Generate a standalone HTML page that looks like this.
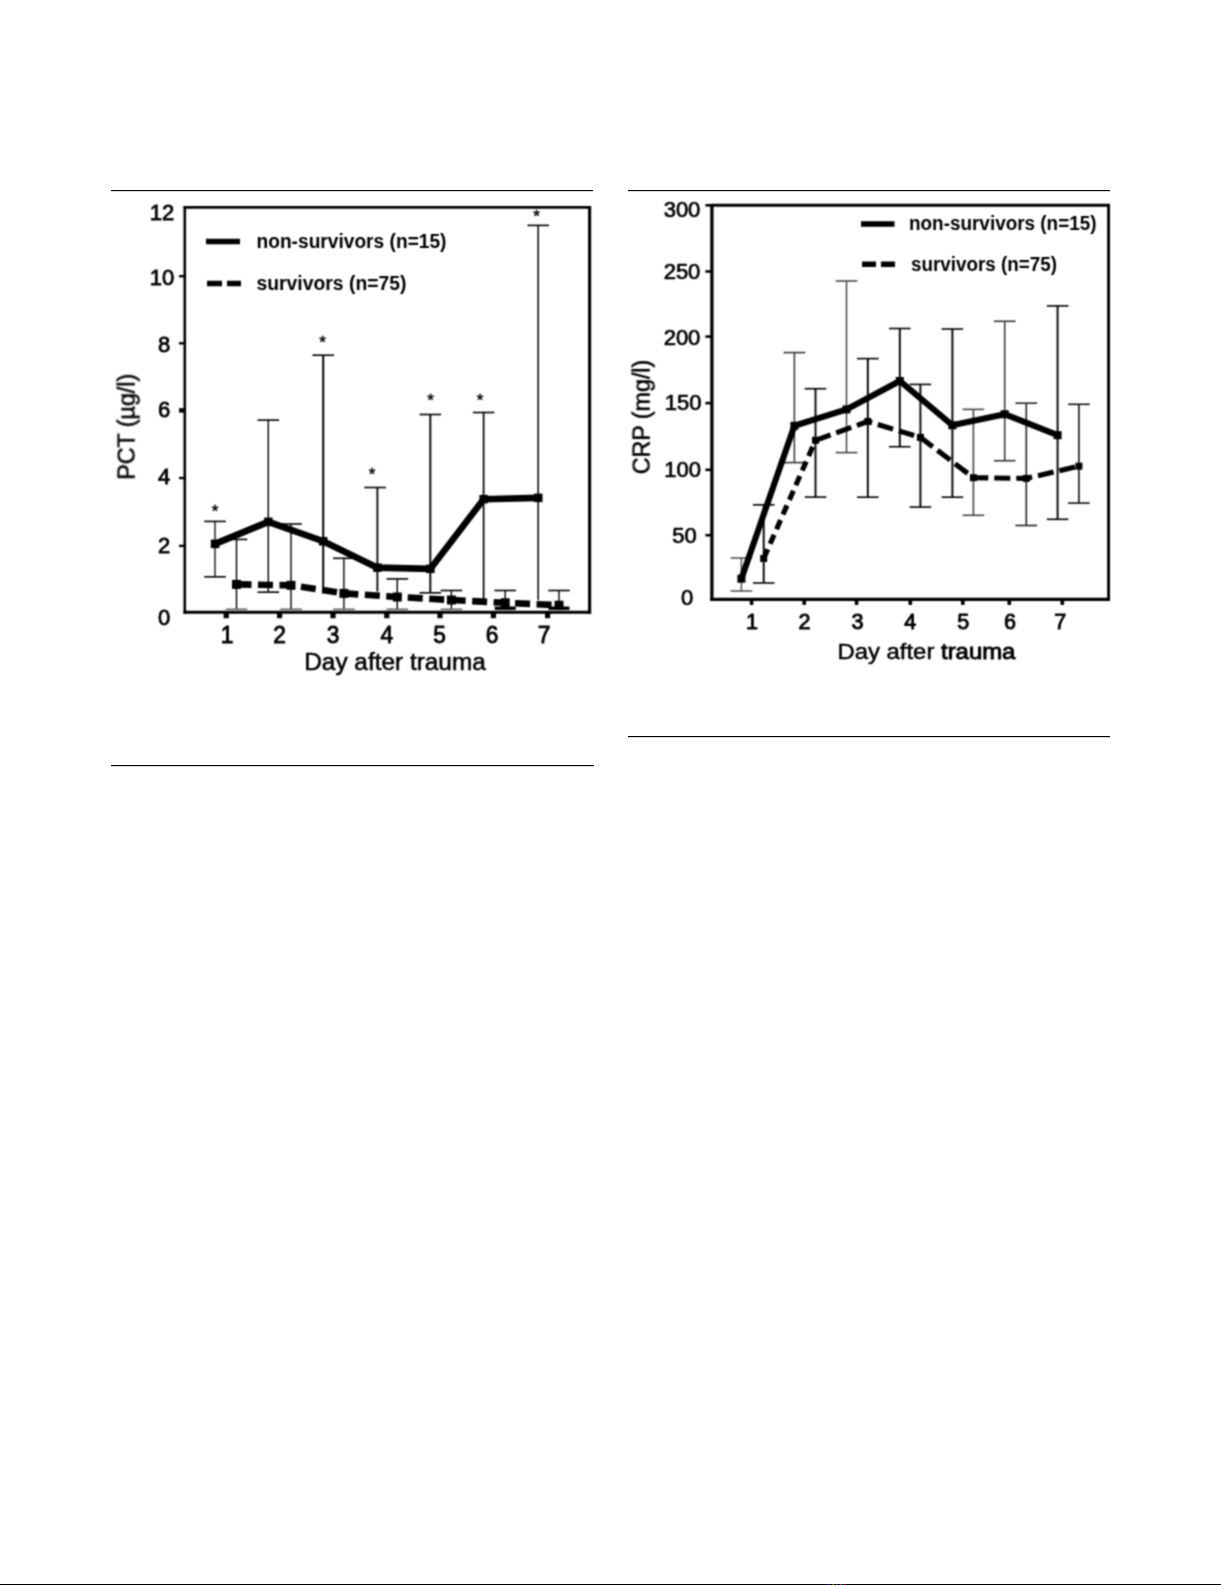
<!DOCTYPE html>
<html lang="en"><head><meta charset="utf-8"><title>Figure</title>
<style>
html,body{margin:0;padding:0;background:#fff;}
body{width:1221px;height:1585px;overflow:hidden;position:relative;}
svg{position:absolute;left:0;top:0;display:block;}
svg text{font-family:"Liberation Sans", Arial, sans-serif;fill:#000;}
</style></head><body>
<svg width="1221" height="1585" viewBox="0 0 1221 1585">
<defs><filter id="soft" x="0" y="0" width="1221" height="1585" filterUnits="userSpaceOnUse" color-interpolation-filters="sRGB"><feConvolveMatrix order="3" kernelMatrix="1 2 1 2 5 2 1 2 1" divisor="17" edgeMode="duplicate" preserveAlpha="false"/></filter></defs>
<g id="fig" filter="url(#soft)">
<line x1="184.8" y1="206.0" x2="184.8" y2="613.7" stroke="#000" stroke-width="2.6" />
<line x1="183.5" y1="207.3" x2="591.1" y2="207.3" stroke="#000" stroke-width="2.7" />
<line x1="589.6" y1="206.0" x2="589.6" y2="613.7" stroke="#000" stroke-width="3.1" />
<line x1="183.5" y1="612.2" x2="591.1" y2="612.2" stroke="#000" stroke-width="3.1" />
<line x1="179.0" y1="545.9" x2="184.8" y2="545.9" stroke="#000" stroke-width="2.4" />
<line x1="179.0" y1="478.0" x2="184.8" y2="478.0" stroke="#000" stroke-width="2.4" />
<line x1="179.0" y1="410.4" x2="184.8" y2="410.4" stroke="#000" stroke-width="4.5" />
<line x1="179.0" y1="343.3" x2="184.8" y2="343.3" stroke="#000" stroke-width="2.4" />
<line x1="179.0" y1="276.2" x2="184.8" y2="276.2" stroke="#000" stroke-width="2.4" />
<text transform="translate(162.0,220.4) scale(1.0,1)" font-size="22" text-anchor="middle" font-weight="normal" stroke="#000" stroke-width="0.8" >12</text>
<text transform="translate(162.0,284.5) scale(1.0,1)" font-size="22" text-anchor="middle" font-weight="normal" stroke="#000" stroke-width="0.8" >10</text>
<text transform="translate(164.0,351.6) scale(1.0,1)" font-size="22" text-anchor="middle" font-weight="normal" stroke="#000" stroke-width="0.8" >8</text>
<text transform="translate(164.0,417.4) scale(1.0,1)" font-size="22" text-anchor="middle" font-weight="normal" stroke="#000" stroke-width="0.8" >6</text>
<text transform="translate(164.0,484.3) scale(1.0,1)" font-size="22" text-anchor="middle" font-weight="normal" stroke="#000" stroke-width="0.8" >4</text>
<text transform="translate(164.0,553.1) scale(1.0,1)" font-size="22" text-anchor="middle" font-weight="normal" stroke="#000" stroke-width="0.8" >2</text>
<text transform="translate(164.0,625.2) scale(1.0,1)" font-size="22" text-anchor="middle" font-weight="normal" stroke="#000" stroke-width="0.8" >0</text>
<line x1="226.2" y1="612.2" x2="226.2" y2="618.2" stroke="#000" stroke-width="5.2" />
<text transform="translate(227.2,643.4) scale(0.93,1)" font-size="24.5" text-anchor="middle" font-weight="normal" stroke="#000" stroke-width="0.9" >1</text>
<line x1="279.6" y1="612.2" x2="279.6" y2="618.2" stroke="#000" stroke-width="5.2" />
<text transform="translate(279.6,643.4) scale(0.93,1)" font-size="24.5" text-anchor="middle" font-weight="normal" stroke="#000" stroke-width="0.9" >2</text>
<line x1="333.0" y1="612.2" x2="333.0" y2="618.2" stroke="#000" stroke-width="5.2" />
<text transform="translate(333.0,643.4) scale(0.93,1)" font-size="24.5" text-anchor="middle" font-weight="normal" stroke="#000" stroke-width="0.9" >3</text>
<line x1="386.8" y1="612.2" x2="386.8" y2="618.2" stroke="#000" stroke-width="5.2" />
<text transform="translate(386.8,643.4) scale(0.93,1)" font-size="24.5" text-anchor="middle" font-weight="normal" stroke="#000" stroke-width="0.9" >4</text>
<line x1="440.0" y1="612.2" x2="440.0" y2="618.2" stroke="#000" stroke-width="5.2" />
<text transform="translate(439.5,643.4) scale(0.93,1)" font-size="24.5" text-anchor="middle" font-weight="normal" stroke="#000" stroke-width="0.9" >5</text>
<line x1="493.4" y1="612.2" x2="493.4" y2="618.2" stroke="#000" stroke-width="5.2" />
<text transform="translate(492.0,643.4) scale(0.93,1)" font-size="24.5" text-anchor="middle" font-weight="normal" stroke="#000" stroke-width="0.9" >6</text>
<line x1="547.6" y1="612.2" x2="547.6" y2="618.2" stroke="#000" stroke-width="5.2" />
<text transform="translate(544.2,643.4) scale(0.93,1)" font-size="24.5" text-anchor="middle" font-weight="normal" stroke="#000" stroke-width="0.9" >7</text>
<text transform="translate(395.0,670.3) scale(1.0,1)" font-size="23" text-anchor="middle" font-weight="normal" stroke="#000" stroke-width="0.55" textLength="181.5" lengthAdjust="spacingAndGlyphs" >Day after trauma</text>
<text transform="translate(134.6,426.7) rotate(-90)" font-size="23" text-anchor="middle" textLength="106" lengthAdjust="spacingAndGlyphs" stroke="#000" stroke-width="0.55">PCT (µg/l)</text>
<line x1="215.0" y1="521.4" x2="215.0" y2="576.8" stroke="#000" stroke-width="1.3" />
<line x1="204.2" y1="521.4" x2="225.8" y2="521.4" stroke="#000" stroke-width="1.6" />
<line x1="204.2" y1="576.8" x2="225.8" y2="576.8" stroke="#000" stroke-width="1.6" />
<line x1="268.3" y1="420.1" x2="268.3" y2="592.2" stroke="#000" stroke-width="1.4" />
<line x1="257.5" y1="420.1" x2="279.1" y2="420.1" stroke="#000" stroke-width="1.6" />
<line x1="257.5" y1="592.2" x2="279.1" y2="592.2" stroke="#000" stroke-width="1.6" />
<line x1="323.2" y1="355.2" x2="323.2" y2="589.5" stroke="#000" stroke-width="2.0" />
<line x1="312.4" y1="355.2" x2="334.0" y2="355.2" stroke="#000" stroke-width="1.6" />
<line x1="377.4" y1="487.5" x2="377.4" y2="591.5" stroke="#000" stroke-width="1.8" />
<line x1="364.3" y1="487.5" x2="385.9" y2="487.5" stroke="#000" stroke-width="1.6" />
<line x1="430.3" y1="414.5" x2="430.3" y2="592.8" stroke="#000" stroke-width="1.9" />
<line x1="419.5" y1="414.5" x2="441.1" y2="414.5" stroke="#000" stroke-width="1.6" />
<line x1="419.5" y1="592.8" x2="441.1" y2="592.8" stroke="#000" stroke-width="1.6" />
<line x1="483.6" y1="412.5" x2="483.6" y2="599.0" stroke="#000" stroke-width="1.7" />
<line x1="472.8" y1="412.5" x2="494.4" y2="412.5" stroke="#000" stroke-width="1.6" />
<line x1="538.2" y1="225.4" x2="538.2" y2="600.0" stroke="#000" stroke-width="1.5" />
<line x1="527.4" y1="225.4" x2="549.0" y2="225.4" stroke="#000" stroke-width="1.6" />
<line x1="236.5" y1="539.4" x2="236.5" y2="609.8" stroke="#000" stroke-width="1.4" />
<line x1="225.7" y1="539.4" x2="247.3" y2="539.4" stroke="#000" stroke-width="1.6" />
<line x1="225.7" y1="609.3" x2="247.3" y2="609.3" stroke="#666" stroke-width="1.6" />
<line x1="291.0" y1="524.0" x2="291.0" y2="609.8" stroke="#000" stroke-width="1.4" />
<line x1="280.2" y1="524.0" x2="301.8" y2="524.0" stroke="#000" stroke-width="1.6" />
<line x1="280.2" y1="609.3" x2="301.8" y2="609.3" stroke="#666" stroke-width="1.6" />
<line x1="343.9" y1="558.3" x2="343.9" y2="609.8" stroke="#000" stroke-width="1.4" />
<line x1="333.1" y1="558.3" x2="354.7" y2="558.3" stroke="#000" stroke-width="1.6" />
<line x1="333.1" y1="609.3" x2="354.7" y2="609.3" stroke="#666" stroke-width="1.6" />
<line x1="397.3" y1="578.9" x2="397.3" y2="609.8" stroke="#000" stroke-width="1.4" />
<line x1="386.5" y1="578.9" x2="408.1" y2="578.9" stroke="#000" stroke-width="1.6" />
<line x1="386.5" y1="609.3" x2="408.1" y2="609.3" stroke="#666" stroke-width="1.6" />
<line x1="451.4" y1="590.5" x2="451.4" y2="609.8" stroke="#000" stroke-width="1.4" />
<line x1="440.6" y1="590.5" x2="462.2" y2="590.5" stroke="#000" stroke-width="1.6" />
<line x1="440.6" y1="609.3" x2="462.2" y2="609.3" stroke="#666" stroke-width="1.6" />
<line x1="505.2" y1="590.5" x2="505.2" y2="609.8" stroke="#000" stroke-width="1.4" />
<line x1="494.4" y1="590.5" x2="516.0" y2="590.5" stroke="#000" stroke-width="1.6" />
<line x1="494.7" y1="608.2" x2="515.7" y2="608.2" stroke="#000" stroke-width="3.4" />
<line x1="559.0" y1="590.5" x2="559.0" y2="609.8" stroke="#000" stroke-width="1.4" />
<line x1="548.2" y1="590.5" x2="569.8" y2="590.5" stroke="#000" stroke-width="1.6" />
<line x1="548.5" y1="608.2" x2="569.5" y2="608.2" stroke="#000" stroke-width="3.4" />
<polyline points="215.0,543.9 268.3,521.9 323.2,541.2 377.4,567.6 430.3,568.9 483.6,499.2 538.2,497.9" fill="none" stroke="#000" stroke-width="6.6" stroke-linejoin="miter"/>
<rect x="210.8" y="539.6" width="8.5" height="8.5" fill="#000"/>
<rect x="264.1" y="517.6" width="8.5" height="8.5" fill="#000"/>
<rect x="318.9" y="537.0" width="8.5" height="8.5" fill="#000"/>
<rect x="373.1" y="563.4" width="8.5" height="8.5" fill="#000"/>
<rect x="426.1" y="564.6" width="8.5" height="8.5" fill="#000"/>
<rect x="479.4" y="494.9" width="8.5" height="8.5" fill="#000"/>
<rect x="534.0" y="493.6" width="8.5" height="8.5" fill="#000"/>
<polyline points="236.5,584.4 291.0,585.3 343.9,593.4 397.3,597.0 451.4,600.0 505.2,602.8 559.0,605.2" fill="none" stroke="#000" stroke-width="6.6" stroke-dasharray="15 6.5"/>
<rect x="232.0" y="579.9" width="9" height="9" fill="#000"/>
<rect x="286.5" y="580.8" width="9" height="9" fill="#000"/>
<rect x="339.4" y="588.9" width="9" height="9" fill="#000"/>
<rect x="392.8" y="592.5" width="9" height="9" fill="#000"/>
<rect x="446.9" y="595.5" width="9" height="9" fill="#000"/>
<rect x="500.7" y="598.3" width="9" height="9" fill="#000"/>
<rect x="554.5" y="600.7" width="9" height="9" fill="#000"/>
<text transform="translate(215.0,516.5) scale(1.0,1)" font-size="17" text-anchor="middle" font-weight="normal" stroke="#000" stroke-width="0.5" fill="#222">*</text>
<text transform="translate(322.6,348.0) scale(1.0,1)" font-size="17" text-anchor="middle" font-weight="normal" stroke="#000" stroke-width="0.5" fill="#222">*</text>
<text transform="translate(372.0,479.5) scale(1.0,1)" font-size="17" text-anchor="middle" font-weight="normal" stroke="#000" stroke-width="0.5" fill="#222">*</text>
<text transform="translate(430.5,405.5) scale(1.0,1)" font-size="17" text-anchor="middle" font-weight="normal" stroke="#000" stroke-width="0.5" fill="#222">*</text>
<text transform="translate(480.0,405.5) scale(1.0,1)" font-size="17" text-anchor="middle" font-weight="normal" stroke="#000" stroke-width="0.5" fill="#222">*</text>
<text transform="translate(536.5,221.5) scale(1.0,1)" font-size="17" text-anchor="middle" font-weight="normal" stroke="#000" stroke-width="0.5" fill="#222">*</text>
<line x1="206.0" y1="241.5" x2="240.0" y2="241.5" stroke="#000" stroke-width="5.5" />
<line x1="207.0" y1="283.5" x2="241.0" y2="283.5" stroke="#000" stroke-width="5.5" stroke-dasharray="15 5"/>
<text transform="translate(256.5,247.8) scale(0.95,1)" font-size="19.6" text-anchor="start" font-weight="bold" stroke="#000" stroke-width="0" textLength="200.0" lengthAdjust="spacingAndGlyphs" fill="#1a1a1a">non-survivors (n=15)</text>
<text transform="translate(256.5,289.8) scale(0.95,1)" font-size="19.6" text-anchor="start" font-weight="bold" stroke="#000" stroke-width="0" textLength="157.9" lengthAdjust="spacingAndGlyphs" fill="#1a1a1a">survivors (n=75)</text>
<line x1="711.9" y1="204.0" x2="711.9" y2="600.9" stroke="#000" stroke-width="3.3" />
<line x1="710.3" y1="205.3" x2="1109.9" y2="205.3" stroke="#000" stroke-width="3.0" />
<line x1="1108.6" y1="204.0" x2="1108.6" y2="600.9" stroke="#000" stroke-width="2.9" />
<line x1="710.3" y1="599.3" x2="1110.0" y2="599.3" stroke="#000" stroke-width="3.2" />
<line x1="705.4" y1="535.2" x2="711.9" y2="535.2" stroke="#000" stroke-width="2.6" />
<line x1="705.4" y1="469.8" x2="711.9" y2="469.8" stroke="#000" stroke-width="2.6" />
<line x1="705.4" y1="403.1" x2="711.9" y2="403.1" stroke="#000" stroke-width="2.6" />
<line x1="705.4" y1="336.6" x2="711.9" y2="336.6" stroke="#000" stroke-width="2.6" />
<line x1="705.4" y1="271.5" x2="711.9" y2="271.5" stroke="#000" stroke-width="2.6" />
<line x1="705.4" y1="205.3" x2="711.9" y2="205.3" stroke="#000" stroke-width="2.6" />
<text transform="translate(682.0,216.8) scale(1.0,1)" font-size="22" text-anchor="middle" font-weight="normal" stroke="#000" stroke-width="0.7" >300</text>
<text transform="translate(682.0,279.0) scale(1.0,1)" font-size="22" text-anchor="middle" font-weight="normal" stroke="#000" stroke-width="0.7" >250</text>
<text transform="translate(682.0,344.8) scale(1.0,1)" font-size="22" text-anchor="middle" font-weight="normal" stroke="#000" stroke-width="0.7" >200</text>
<text transform="translate(683.2,410.0) scale(1.0,1)" font-size="22" text-anchor="middle" font-weight="normal" stroke="#000" stroke-width="0.7" >150</text>
<text transform="translate(682.7,477.3) scale(1.0,1)" font-size="22" text-anchor="middle" font-weight="normal" stroke="#000" stroke-width="0.7" >100</text>
<text transform="translate(684.5,543.2) scale(1.0,1)" font-size="22" text-anchor="middle" font-weight="normal" stroke="#000" stroke-width="0.7" >50</text>
<text transform="translate(687.0,605.3) scale(1.0,1)" font-size="22" text-anchor="middle" font-weight="normal" stroke="#000" stroke-width="0.7" >0</text>
<line x1="751.6" y1="599.3" x2="751.6" y2="604.9" stroke="#000" stroke-width="3.6" />
<text transform="translate(752.0,629.3) scale(0.96,1)" font-size="22.5" text-anchor="middle" font-weight="normal" stroke="#000" stroke-width="0.9" >1</text>
<line x1="804.2" y1="599.3" x2="804.2" y2="604.9" stroke="#000" stroke-width="3.6" />
<text transform="translate(804.6,629.3) scale(0.96,1)" font-size="22.5" text-anchor="middle" font-weight="normal" stroke="#000" stroke-width="0.9" >2</text>
<line x1="856.6" y1="599.3" x2="856.6" y2="604.9" stroke="#000" stroke-width="3.6" />
<text transform="translate(857.5,629.3) scale(0.96,1)" font-size="22.5" text-anchor="middle" font-weight="normal" stroke="#000" stroke-width="0.9" >3</text>
<line x1="910.3" y1="599.3" x2="910.3" y2="604.9" stroke="#000" stroke-width="3.6" />
<text transform="translate(910.3,629.3) scale(0.96,1)" font-size="22.5" text-anchor="middle" font-weight="normal" stroke="#000" stroke-width="0.9" >4</text>
<line x1="962.8" y1="599.3" x2="962.8" y2="604.9" stroke="#000" stroke-width="3.6" />
<text transform="translate(963.3,629.3) scale(0.96,1)" font-size="22.5" text-anchor="middle" font-weight="normal" stroke="#000" stroke-width="0.9" >5</text>
<line x1="1009.3" y1="599.3" x2="1009.3" y2="604.9" stroke="#000" stroke-width="3.6" />
<text transform="translate(1009.9,629.3) scale(0.96,1)" font-size="22.5" text-anchor="middle" font-weight="normal" stroke="#000" stroke-width="0.9" >6</text>
<line x1="1062.3" y1="599.3" x2="1062.3" y2="604.9" stroke="#000" stroke-width="3.6" />
<text transform="translate(1060.3,629.3) scale(0.96,1)" font-size="22.5" text-anchor="middle" font-weight="normal" stroke="#000" stroke-width="0.9" >7</text>
<text transform="translate(926.4,658.6) scale(1.0,1)" font-size="22.5" text-anchor="middle" font-weight="normal" stroke="#000" stroke-width="0.5" textLength="178.0" lengthAdjust="spacingAndGlyphs" >Day after <tspan stroke-width="0.9">trauma</tspan></text>
<text transform="translate(649.6,417) rotate(-90)" font-size="23" text-anchor="middle" textLength="114.5" lengthAdjust="spacingAndGlyphs" stroke="#000" stroke-width="0.55">CRP (mg/l)</text>
<line x1="741.4" y1="558.0" x2="741.4" y2="591.0" stroke="#555" stroke-width="1.5" />
<line x1="730.6" y1="558.0" x2="752.2" y2="558.0" stroke="#555" stroke-width="1.6" />
<line x1="730.6" y1="591.0" x2="752.2" y2="591.0" stroke="#555" stroke-width="1.6" />
<line x1="794.4" y1="352.6" x2="794.4" y2="462.6" stroke="#333" stroke-width="1.5" />
<line x1="783.6" y1="352.6" x2="805.2" y2="352.6" stroke="#333" stroke-width="1.6" />
<line x1="783.6" y1="462.6" x2="805.2" y2="462.6" stroke="#333" stroke-width="1.6" />
<line x1="846.5" y1="281.0" x2="846.5" y2="452.6" stroke="#444" stroke-width="1.5" />
<line x1="835.7" y1="281.0" x2="857.3" y2="281.0" stroke="#444" stroke-width="1.6" />
<line x1="835.7" y1="452.6" x2="857.3" y2="452.6" stroke="#444" stroke-width="1.6" />
<line x1="899.8" y1="328.5" x2="899.8" y2="446.7" stroke="#000" stroke-width="1.9" />
<line x1="889.0" y1="328.5" x2="910.6" y2="328.5" stroke="#000" stroke-width="1.6" />
<line x1="889.0" y1="446.7" x2="910.6" y2="446.7" stroke="#000" stroke-width="1.6" />
<line x1="952.4" y1="329.0" x2="952.4" y2="497.2" stroke="#000" stroke-width="1.9" />
<line x1="941.6" y1="329.0" x2="963.2" y2="329.0" stroke="#000" stroke-width="1.6" />
<line x1="941.6" y1="497.2" x2="963.2" y2="497.2" stroke="#000" stroke-width="1.6" />
<line x1="1004.7" y1="321.3" x2="1004.7" y2="460.7" stroke="#333" stroke-width="1.5" />
<line x1="993.9" y1="321.3" x2="1015.5" y2="321.3" stroke="#333" stroke-width="1.6" />
<line x1="993.9" y1="460.7" x2="1015.5" y2="460.7" stroke="#333" stroke-width="1.6" />
<line x1="1057.6" y1="305.9" x2="1057.6" y2="519.3" stroke="#000" stroke-width="1.9" />
<line x1="1046.8" y1="305.9" x2="1068.4" y2="305.9" stroke="#000" stroke-width="1.6" />
<line x1="1046.8" y1="519.3" x2="1068.4" y2="519.3" stroke="#000" stroke-width="1.6" />
<line x1="763.7" y1="504.8" x2="763.7" y2="583.0" stroke="#000" stroke-width="1.9" />
<line x1="752.9" y1="504.8" x2="774.5" y2="504.8" stroke="#000" stroke-width="1.6" />
<line x1="752.9" y1="583.0" x2="774.5" y2="583.0" stroke="#000" stroke-width="1.6" />
<line x1="815.5" y1="388.7" x2="815.5" y2="497.1" stroke="#000" stroke-width="1.9" />
<line x1="804.7" y1="388.7" x2="826.3" y2="388.7" stroke="#000" stroke-width="1.6" />
<line x1="804.7" y1="497.1" x2="826.3" y2="497.1" stroke="#000" stroke-width="1.6" />
<line x1="867.8" y1="358.6" x2="867.8" y2="497.2" stroke="#000" stroke-width="1.9" />
<line x1="857.0" y1="358.6" x2="878.6" y2="358.6" stroke="#000" stroke-width="1.6" />
<line x1="857.0" y1="497.2" x2="878.6" y2="497.2" stroke="#000" stroke-width="1.6" />
<line x1="920.4" y1="384.4" x2="920.4" y2="507.1" stroke="#000" stroke-width="1.9" />
<line x1="909.6" y1="384.4" x2="931.2" y2="384.4" stroke="#000" stroke-width="1.6" />
<line x1="909.6" y1="507.1" x2="931.2" y2="507.1" stroke="#000" stroke-width="1.6" />
<line x1="973.4" y1="409.4" x2="973.4" y2="515.3" stroke="#444" stroke-width="1.6" />
<line x1="962.6" y1="409.4" x2="984.2" y2="409.4" stroke="#444" stroke-width="1.6" />
<line x1="962.6" y1="515.3" x2="984.2" y2="515.3" stroke="#444" stroke-width="1.6" />
<line x1="1026.3" y1="403.2" x2="1026.3" y2="525.5" stroke="#222" stroke-width="1.6" />
<line x1="1015.5" y1="403.2" x2="1037.1" y2="403.2" stroke="#222" stroke-width="1.6" />
<line x1="1015.5" y1="525.5" x2="1037.1" y2="525.5" stroke="#222" stroke-width="1.6" />
<line x1="1078.9" y1="404.3" x2="1078.9" y2="503.1" stroke="#111" stroke-width="1.6" />
<line x1="1068.1" y1="404.3" x2="1089.7" y2="404.3" stroke="#111" stroke-width="1.6" />
<line x1="1068.1" y1="503.1" x2="1089.7" y2="503.1" stroke="#111" stroke-width="1.6" />
<polyline points="741.4,578.7 794.4,425.8 846.5,409.4 899.8,381.0 952.4,425.3 1004.7,414.2 1057.6,435.2" fill="none" stroke="#000" stroke-width="6.1" stroke-linejoin="miter"/>
<rect x="737.4" y="574.7" width="8" height="8" fill="#000"/>
<rect x="790.4" y="421.8" width="8" height="8" fill="#000"/>
<rect x="842.5" y="405.4" width="8" height="8" fill="#000"/>
<rect x="895.8" y="377.0" width="8" height="8" fill="#000"/>
<rect x="948.4" y="421.3" width="8" height="8" fill="#000"/>
<rect x="1000.7" y="410.2" width="8" height="8" fill="#000"/>
<rect x="1053.6" y="431.2" width="8" height="8" fill="#000"/>
<polyline points="763.7,558.5 815.5,440.3" fill="none" stroke="#000" stroke-width="5.1" stroke-dasharray="10 6"/>
<polyline points="815.5,440.3 867.8,421.5 920.4,437.4 973.4,477.7 1026.3,478.4 1078.9,466.2" fill="none" stroke="#000" stroke-width="5.1" stroke-dasharray="16 6"/>
<rect x="760.2" y="555.0" width="7" height="7" fill="#000"/>
<rect x="812.0" y="436.8" width="7" height="7" fill="#000"/>
<rect x="864.3" y="418.0" width="7" height="7" fill="#000"/>
<rect x="916.9" y="433.9" width="7" height="7" fill="#000"/>
<rect x="969.9" y="474.2" width="7" height="7" fill="#000"/>
<rect x="1022.8" y="474.9" width="7" height="7" fill="#000"/>
<rect x="1075.4" y="462.7" width="7" height="7" fill="#000"/>
<line x1="861.0" y1="224.0" x2="894.5" y2="224.0" stroke="#000" stroke-width="5.5" />
<line x1="862.0" y1="264.3" x2="895.0" y2="264.3" stroke="#000" stroke-width="5.5" stroke-dasharray="14 5"/>
<text transform="translate(909.0,230.4) scale(0.95,1)" font-size="19.4" text-anchor="start" font-weight="bold" stroke="#000" stroke-width="0" textLength="197.4" lengthAdjust="spacingAndGlyphs" fill="#1a1a1a">non-survivors (n=15)</text>
<text transform="translate(911.0,270.9) scale(0.95,1)" font-size="19.4" text-anchor="start" font-weight="bold" stroke="#000" stroke-width="0" textLength="153.7" lengthAdjust="spacingAndGlyphs" fill="#1a1a1a">survivors (n=75)</text>
</g>
<rect x="111" y="190" width="482" height="1.15" fill="#000"/>
<rect x="111" y="765" width="483" height="1.15" fill="#000"/>
<rect x="628" y="190" width="482" height="1.15" fill="#000"/>
<rect x="628" y="736" width="482" height="1.15" fill="#000"/>
<rect x="0" y="1584" width="1221" height="1" fill="#000"/>
<rect x="827" y="1584" width="1" height="1" fill="#00f"/>
<rect x="829" y="1584" width="1" height="1" fill="#060"/>
<rect x="832" y="1584" width="1" height="1" fill="#a00"/>
<rect x="833" y="1584" width="1" height="1" fill="#0c0"/>
<rect x="836" y="1584" width="1" height="1" fill="#630"/>
<rect x="837" y="1584" width="1" height="1" fill="#006"/>
<rect x="840" y="1584" width="1" height="1" fill="#c00"/>
<rect x="841" y="1584" width="1" height="1" fill="#06f"/>
<rect x="844" y="1584" width="1" height="1" fill="#e00"/>
</svg>
</body></html>
